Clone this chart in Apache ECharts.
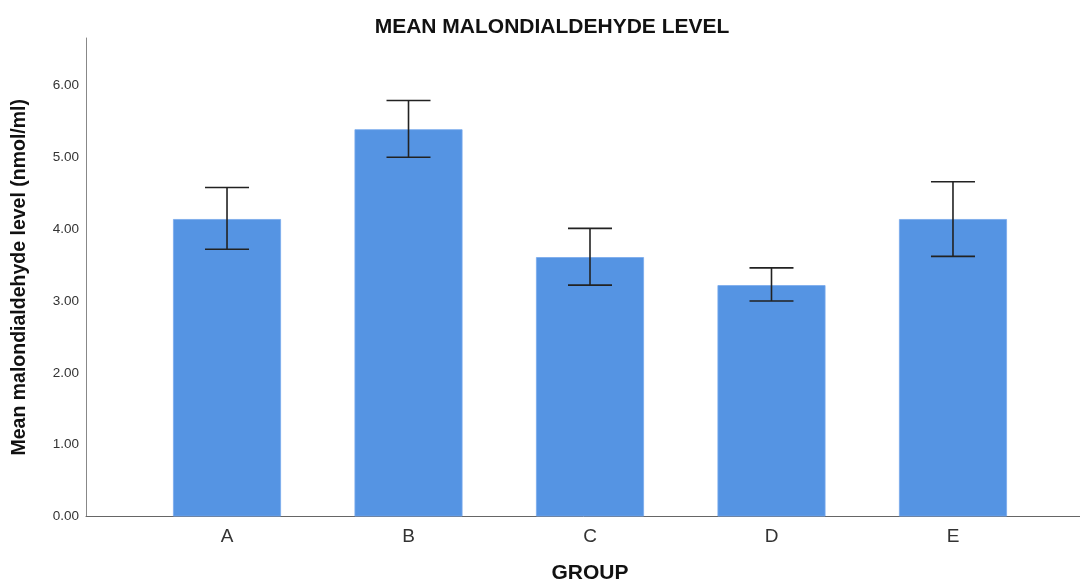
<!DOCTYPE html>
<html>
<head>
<meta charset="utf-8">
<script src="https://cdn.jsdelivr.net/npm/echarts@6/dist/echarts.min.js"></script>
<style>html,body{margin:0;padding:0;background:#fff}#c{width:1080px;height:581px}</style>
</head>
<body>
<div id="c"></div>
<script>
var categories = ['A', 'B', 'C', 'D', 'E'];
var means = [4.14, 5.39, 3.61, 3.22, 4.14];
var upper = [4.58, 5.79, 4.01, 3.46, 4.66];
var lower = [3.72, 5.00, 3.22, 3.00, 3.62];
var yTicks = [0, 1, 2, 3, 4, 5, 6];

var chart = echarts.init(document.getElementById('c'));
var barData = means.map(function (v, i) { return [i + 1, v]; });
var errData = means.map(function (v, i) { return [i + 1, lower[i], upper[i]]; });

chart.setOption({
  animation: false,
  title: {
    text: 'MEAN MALONDIALDEHYDE LEVEL',
    left: 547, top: 12, textAlign: 'center',
    textStyle: { fontFamily: 'Liberation Sans', fontSize: 21, fontWeight: 'bold', color: '#111' }
  },
  grid: { left: 86, right: -14, top: 38, bottom: 64.5, containLabel: false, outerBoundsMode: 'none' },
  xAxis: {
    type: 'value', min: 0.223, max: 5.777,
    name: 'GROUP', nameLocation: 'middle', nameGap: 46,
    nameTextStyle: { fontFamily: 'Liberation Sans', fontSize: 21, fontWeight: 'bold', color: '#111' },
    axisLine: { show: true, lineStyle: { color: '#666', width: 1 } },
    axisTick: { show: false },
    splitLine: { show: false },
    axisLabel: {
      customValues: [1, 2, 3, 4, 5],
      margin: 11,
      fontFamily: 'Liberation Sans', fontSize: 19, color: '#333',
      formatter: function (v) {
        var i = Math.round(v) - 1;
        return (Math.abs(v - Math.round(v)) < 1e-6 && categories[i]) ? categories[i] : '';
      }
    }
  },
  yAxis: {
    type: 'value', min: 0, max: 6.66,
    name: 'Mean malondialdehyde level (nmol/ml)', nameLocation: 'middle', nameGap: 56,
    nameTextStyle: { fontFamily: 'Liberation Sans', fontSize: 19.5, fontWeight: 'bold', color: '#111' },
    axisLine: { show: true, lineStyle: { color: '#888', width: 1 } },
    axisTick: { show: false },
    splitLine: { show: false },
    axisLabel: {
      customValues: yTicks,
      margin: 7,
      fontFamily: 'Liberation Sans', fontSize: 13.5, color: '#333',
      formatter: function (v) { return v.toFixed(2); }
    }
  },
  series: [
    {
      type: 'bar', data: barData, barWidth: 108,
      itemStyle: { color: '#5594e3', borderColor: '#78aaec', borderWidth: 0.8 }
    },
    {
      type: 'custom', data: errData,
      renderItem: function (params, api) {
        var x = api.value(0);
        var lo = api.coord([x, api.value(1)]);
        var hi = api.coord([x, api.value(2)]);
        var hw = 22;
        var st = { stroke: '#222', lineWidth: 1.6 };
        return {
          type: 'group',
          children: [
            { type: 'line', shape: { x1: hi[0], y1: hi[1], x2: lo[0], y2: lo[1] }, style: st },
            { type: 'line', shape: { x1: hi[0] - hw, y1: hi[1], x2: hi[0] + hw, y2: hi[1] }, style: st },
            { type: 'line', shape: { x1: lo[0] - hw, y1: lo[1], x2: lo[0] + hw, y2: lo[1] }, style: st }
          ]
        };
      },
      z: 10
    }
  ]
});
</script>
</body>
</html>
